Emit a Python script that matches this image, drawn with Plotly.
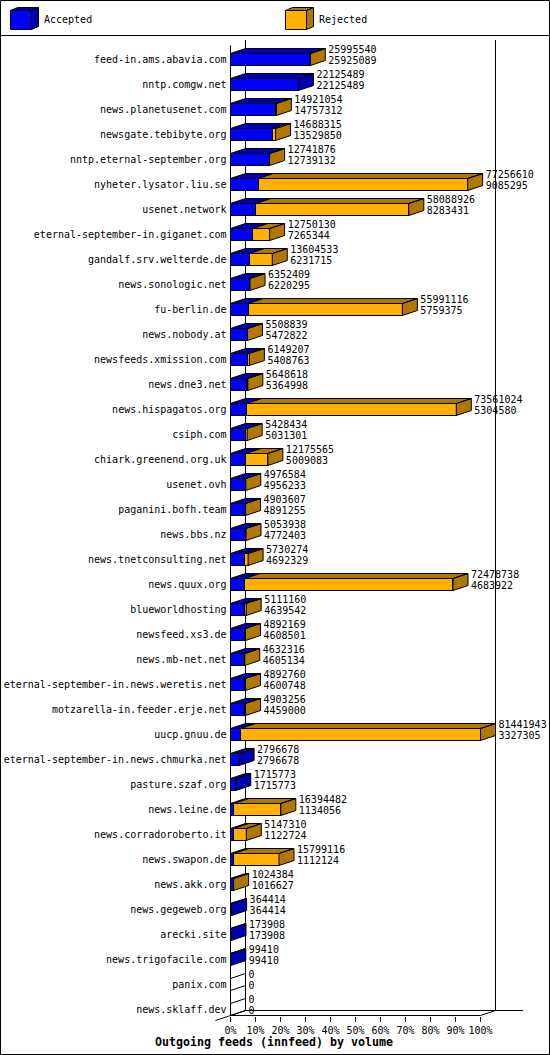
import plotly.graph_objects as go

hosts = [
    "feed-in.ams.abavia.com", "nntp.comgw.net", "news.planetusenet.com",
    "newsgate.tebibyte.org", "nntp.eternal-september.org", "nyheter.lysator.liu.se",
    "usenet.network", "eternal-september-in.giganet.com", "gandalf.srv.welterde.de",
    "news.sonologic.net", "fu-berlin.de", "news.nobody.at", "newsfeeds.xmission.com",
    "news.dne3.net", "news.hispagatos.org", "csiph.com", "chiark.greenend.org.uk",
    "usenet.ovh", "paganini.bofh.team", "news.bbs.nz", "news.tnetconsulting.net",
    "news.quux.org", "blueworldhosting", "newsfeed.xs3.de", "news.mb-net.net",
    "eternal-september-in.news.weretis.net", "motzarella-in.feeder.erje.net",
    "uucp.gnuu.de", "eternal-september-in.news.chmurka.net", "pasture.szaf.org",
    "news.leine.de", "news.corradoroberto.it", "news.swapon.de", "news.akk.org",
    "news.gegeweb.org", "arecki.site", "news.trigofacile.com", "panix.com",
    "news.sklaff.dev",
]
offered = [
    25995540, 22125489, 14921054, 14688315, 12741876, 77256610, 58088926, 12750130,
    13604533, 6352409, 55991116, 5508839, 6149207, 5648618, 73561024, 5428434,
    12175565, 4976584, 4903607, 5053938, 5730274, 72478738, 5111160, 4892169,
    4632316, 4892760, 4903256, 81441943, 2796678, 1715773, 16394482, 5147310,
    15799116, 1024384, 364414, 173908, 99410, 0, 0,
]
accepted = [
    25925089, 22125489, 14757312, 13529850, 12739132, 9085295, 8283431, 7265344,
    6231715, 6220295, 5759375, 5472822, 5408763, 5364998, 5304580, 5031301,
    5009083, 4956233, 4891255, 4772403, 4692329, 4683922, 4639542, 4608501,
    4605134, 4600748, 4459000, 3327305, 2796678, 1715773, 1134056, 1122724,
    1112124, 1016627, 364414, 173908, 99410, 0, 0,
]
pct_ticks = [0, 10, 20, 30, 40, 50, 60, 70, 80, 90, 100]

WIDTH, HEIGHT = 550, 1055
FONT = "DejaVu Sans Mono"
BLUE, DARK_BLUE = "#0000ff", "#0000b0"
ORANGE, BROWN = "#ffb000", "#b07800"

# one percent is 2.5px and one row is 25px
X0_PX, Y0_PX = 230.5, 59.5
DX, DY = 6, 0.2  # depth of the 3d effect, in axis units
BAR_H = 0.48

rows = list(range(len(hosts)))
top_value = max(offered)
acc_pct = [v / top_value * 100 for v in accepted]
off_pct = [v / top_value * 100 for v in offered]
rej_pct = [o - a for o, a in zip(off_pct, acc_pct)]


def px(x):
    return x / WIDTH


def py(y):
    return 1 - y / HEIGHT


def add_poly(store, xs, ys):
    store[0].extend(list(xs) + [xs[0], None])
    store[1].extend(list(ys) + [ys[0], None])


faces = {DARK_BLUE: ([], []), BROWN: ([], []), "none": ([], [])}
for r, a, o in zip(rows, acc_pct, off_pct):
    top, bot = r - BAR_H / 2, r + BAR_H / 2
    if o == 0:
        add_poly(faces["none"], [0, DX, DX, 0], [top, top - DY, bot - DY, bot])
        continue
    add_poly(faces[DARK_BLUE], [0, DX, a + DX, a], [top, top - DY, top - DY, top])
    if o > a:
        add_poly(faces[BROWN], [a, a + DX, o + DX, o], [top, top - DY, top - DY, top])
    side = BROWN if o > a else DARK_BLUE
    add_poly(faces[side], [o, o + DX, o + DX, o], [top, top - DY, bot - DY, bot])

fig = go.Figure()

fig.add_trace(go.Bar(
    y=rows, x=acc_pct, orientation="h", width=BAR_H, name="Accepted",
    marker=dict(color=BLUE, line=dict(color="black", width=1)), hoverinfo="skip",
))
fig.add_trace(go.Bar(
    y=rows, x=rej_pct, orientation="h", width=BAR_H, name="Rejected",
    marker=dict(color=ORANGE, line=dict(color="black", width=1)), hoverinfo="skip",
))

for color, (xs, ys) in faces.items():
    fig.add_trace(go.Scatter(
        x=xs, y=ys, mode="lines",
        fill="none" if color == "none" else "toself",
        fillcolor=None if color == "none" else color,
        line=dict(color="black", width=1), hoverinfo="skip",
    ))

# the two numbers next to each bar
label_x = [o + DX + 1.2 for o in off_pct]
fig.add_trace(go.Scatter(
    x=label_x, y=[r - 0.36 for r in rows], mode="text", text=[str(v) for v in offered],
    textposition="middle right", textfont=dict(family=FONT, size=10, color="black"),
    hoverinfo="skip",
))
fig.add_trace(go.Scatter(
    x=label_x, y=[r + 0.08 for r in rows], mode="text", text=[str(v) for v in accepted],
    textposition="middle right", textfont=dict(family=FONT, size=10, color="black"),
    hoverinfo="skip",
))

# walls and floor of the 3d box
floor_y = rows[-1] + BAR_H / 2
axis_top = -0.56
wall_top = axis_top - DY - 0.02
walls = [
    (0, axis_top, 0, floor_y),
    (DX, wall_top, DX, floor_y - DY),
    (100 + DX, wall_top, 100 + DX, floor_y - DY),
    (0, floor_y, 100, floor_y),
    (DX, floor_y - DY, 117, floor_y - DY),
    (-DX, floor_y + DY, DX, floor_y - DY),
    (100, floor_y, 100 + DX, floor_y - DY),
]
for x0, y0, x1, y1 in walls:
    fig.add_shape(type="line", x0=x0, y0=y0, x1=x1, y1=y1, xref="x", yref="y",
                  line=dict(color="black", width=1), layer="below")

# frame and legend band
fig.add_shape(type="rect", xref="paper", yref="paper", x0=px(0.5), x1=px(549.5),
              y0=py(1054.5), y1=py(0.5), line=dict(color="black", width=1))
fig.add_shape(type="line", xref="paper", yref="paper", x0=0, x1=1, y0=py(35.5), y1=py(35.5),
              line=dict(color="black", width=1))


def path(points):
    return "M " + " L ".join(f"{px(x):.5f},{py(y):.5f}" for x, y in points) + " Z"


def legend_cube(x, face, dark, name):
    left, right, up, down = x, x + 21, 10.5, 29.5
    dx, dy = 7, 3
    shapes = [
        ([(left, up), (left + dx, up - dy), (right + dx, up - dy), (right, up)], dark),
        ([(right, up), (right + dx, up - dy), (right + dx, down - dy), (right, down)], dark),
        ([(left, up), (right, up), (right, down), (left, down)], face),
    ]
    for pts, color in shapes:
        fig.add_shape(type="path", xref="paper", yref="paper", path=path(pts),
                      fillcolor=color, line=dict(color="black", width=1))
    fig.add_annotation(text=name, xref="paper", yref="paper", x=px(x + 31.5), y=py(20),
                       xanchor="left", yanchor="middle", showarrow=False,
                       font=dict(family=FONT, size=10, color="black"))


legend_cube(10.5, BLUE, DARK_BLUE, "Accepted")
legend_cube(285.5, ORANGE, BROWN, "Rejected")

fig.update_layout(
    width=WIDTH,
    height=HEIGHT,
    autosize=False,
    margin=dict(l=0, r=0, t=0, b=0, pad=0),
    paper_bgcolor="white",
    plot_bgcolor="rgba(0,0,0,0)",
    barmode="stack",
    showlegend=False,
    title=dict(
        text="<b>Outgoing feeds (innfeed) by volume</b>",
        x=274 / WIDTH, y=py(1042), xanchor="center", yanchor="middle",
        font=dict(family=FONT, size=11.63, color="black"),
    ),
    xaxis=dict(
        domain=[0, 1],
        range=[-X0_PX / 2.5, (WIDTH - X0_PX) / 2.5],
        anchor="free",
        position=py(Y0_PX + 25 * floor_y),
        tickmode="array",
        tickvals=pct_ticks,
        ticktext=[f"{t}%" for t in pct_ticks],
        ticks="outside",
        ticklen=5,
        tickwidth=1,
        tickcolor="black",
        tickangle=0,
        showgrid=False,
        zeroline=False,
        showline=False,
        tickfont=dict(family=FONT, size=10, color="black"),
    ),
    yaxis=dict(
        domain=[0, 1],
        range=[(HEIGHT - Y0_PX) / 25, -Y0_PX / 25],
        anchor="free",
        position=px(X0_PX),
        tickmode="array",
        tickvals=rows,
        ticktext=hosts,
        ticks="",
        ticklabelstandoff=4,
        showgrid=False,
        zeroline=False,
        showline=False,
        tickfont=dict(family=FONT, size=10, color="black"),
    ),
)

# the page's default body margin would push the chart off by 8px
fig.write_html(
    "out.html",
    config=dict(displayModeBar=False),
    post_script="document.body.style.margin = '0';",
)
